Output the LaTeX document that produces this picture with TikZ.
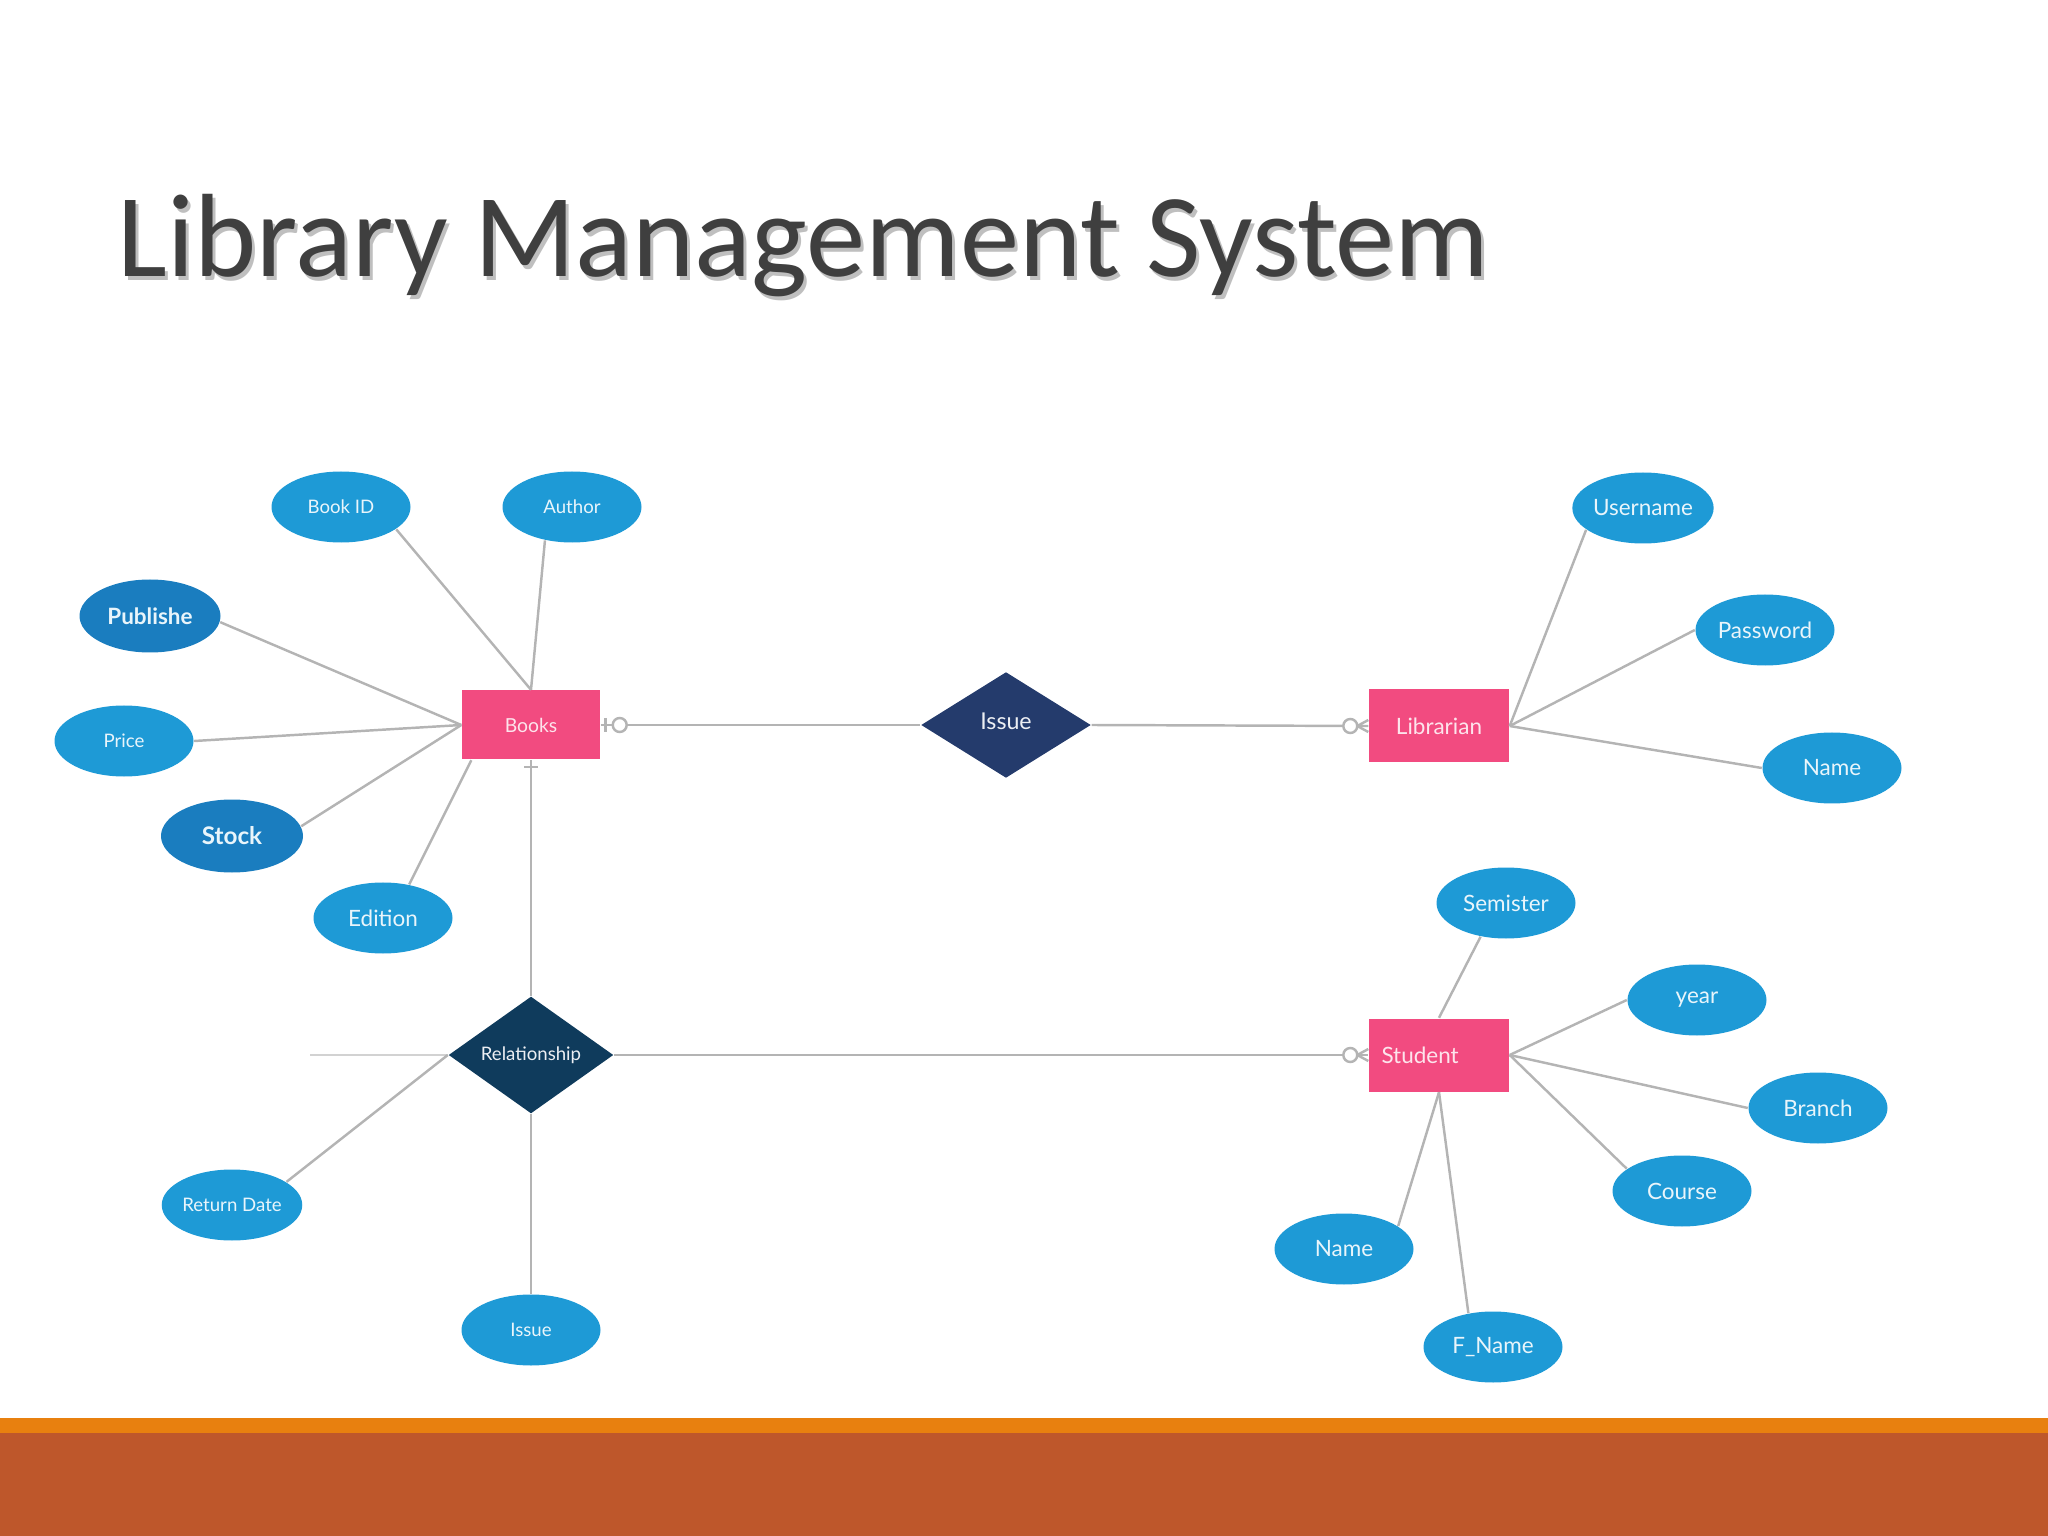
\documentclass[tikz,border=0pt]{standalone}
\usepackage{fontspec}
\setmainfont{Carlito}
\newfontfamily\erfont{Lato}
\usetikzlibrary{shapes.geometric,calc,positioning}

\definecolor{attrBlue}{HTML}{1E9AD6}
\definecolor{attrDark}{HTML}{1A7DBF}
\definecolor{entPink}{HTML}{F24B80}
\definecolor{relNavy}{HTML}{243B6C}
\definecolor{relTeal}{HTML}{0F3B5C}
\definecolor{lineGray}{HTML}{B4B4B4}
\definecolor{titleGray}{HTML}{3F3F3F}
\definecolor{barOrange}{HTML}{E8800F}
\definecolor{barRust}{HTML}{BE572B}

\begin{document}
\begin{tikzpicture}[
    attr/.style={ellipse, fill=attrBlue, minimum width=1.39cm, minimum height=0.71cm, inner sep=0pt,
        text=white!90!attrBlue, font=\erfont\fontsize{6.4}{7}\selectfont},
    attrsmall/.style={attr, font=\erfont\fontsize{5.3}{6}\selectfont},
    attrdark/.style={attr, fill=attrDark, font=\erfont\bfseries\fontsize{6.4}{7}\selectfont},
    entity/.style={rectangle, fill=entPink, minimum width=1.40cm, minimum height=0.71cm, inner sep=0pt,
        text=white!85!entPink, font=\erfont\fontsize{6.4}{7}\selectfont},
    rel/.style={diamond, fill=relNavy, minimum width=1.70cm, minimum height=1.06cm, inner sep=0pt,
        text=white!92!relNavy, font=\erfont\fontsize{6.6}{7}\selectfont},
    conn/.style={draw=lineGray, line width=0.7pt}]
    \useasboundingbox (0,0) rectangle (20.48,-15.36);

    % bottom bars
    \fill[barOrange] (0,-14.18) rectangle (20.48,-14.33);
    \fill[barRust] (0,-14.33) rectangle (20.48,-15.36);

    % title
    \node (TitleShadow) [anchor=base west, inner sep=0pt, text=black!25, font=\fontsize{33.7}{40}\selectfont] at (1.20,-2.81) {Library Management System};;
    \node (Title) [anchor=base west, inner sep=0pt, text=titleGray, font=\fontsize{33.7}{40}\selectfont] at (1.17,-2.77) {Library Management System};;

    % entities and relations
    \node (Books) [entity, minimum width=1.38cm, minimum height=0.69cm, font=\erfont\fontsize{5.5}{6}\selectfont] at (5.31,-7.25) {Books};;
    \node (Issue) [rel] at (10.06,-7.25) {\raisebox{0.6ex}{Issue}};;
    \node (Librarian) [entity, minimum height=0.73cm] at (14.39,-7.26) {Librarian};;
    \node (Rel) [rel, fill=relTeal, minimum width=1.65cm, minimum height=0.97cm, font=\erfont\fontsize{5.3}{6}\selectfont] at (5.31,-10.55) {Relationship};;
    \node (Student) [entity, minimum height=0.73cm, text width=1.15cm, align=left] at (14.39,-10.55) {Student};;
    \coordinate (RelStub) at (3.10,-10.55);

    % attributes Books
    \node (BookID) [attrsmall] at (3.41,-5.07) {Book ID};;
    \node (Author) [attrsmall] at (5.72,-5.07) {Author};;
    \node (Publishe) [attrdark, minimum width=1.41cm, minimum height=0.73cm] at (1.50,-6.16) {Publishe};;
    \node (Price) [attrsmall] at (1.24,-7.41) {Price};;
    \node (Stock) [attrdark, minimum width=1.42cm, minimum height=0.73cm, font=\erfont\bfseries\fontsize{6.9}{8}\selectfont] at (2.32,-8.36) {Stock};;
    \node (Edition) [attr] at (3.83,-9.18) {Edition};;

    % attributes Relationship
    \node (ReturnDate) [attrsmall] at (2.32,-12.05) {Return Date};;
    \node (IssueAttr) [attrsmall] at (5.31,-13.30) {Issue};;

    % attributes Librarian
    \node (Username) [attr] at (16.43,-5.08) {Username};;
    \node (Password) [attr] at (17.65,-6.30) {Password};;
    \node (LibName) [attr] at (18.32,-7.68) {Name};;

    % attributes Student
    \node (Semister) [attr] at (15.06,-9.03) {Semister};;
    \node (Year) [attr] at (16.97,-10.00) {year};;
    \node (Branch) [attr] at (18.18,-11.08) {Branch};;
    \node (Course) [attr] at (16.82,-11.91) {Course};;
    \node (StuName) [attr] at (13.44,-12.49) {Name};;
    \node (FName) [attr] at (14.93,-13.47) {F\_Name};;

    % connectors
    \draw[conn] (BookID.-22) -- (Books.north);
    \draw[conn] (Author.231) -- (Books.north);
    \draw[conn] (Publishe.-5) -- (Books.west);
    \draw[conn] (Price.east) -- (Books.west);
    \draw[conn] (Stock.8) -- (Books.west);
    \draw[conn] (Edition.52) -- ($(Books.south west)+(0.1,0)$);
    \draw[conn] (Books.east) -- (Issue.west);
    \draw[conn] (Issue.east) -- (Librarian.west);
    \draw[conn] (Rel.north) -- (Books.south);
    \draw[conn] (Rel.east) -- (Student.west);
    \draw[conn, draw=lineGray!60, line width=0.4pt] (RelStub) -- (Rel.west);
    \draw[conn] (Rel.west) -- (ReturnDate.23);
    \draw[conn] (Rel.south) -- (IssueAttr);
    \draw[conn] (Librarian.east) -- (Username.201);
    \draw[conn] (Librarian.east) -- (Password.west);
    \draw[conn] (Librarian.east) -- (LibName.west);
    \draw[conn] (Student.north) -- (Semister.233);
    \draw[conn] (Student.east) -- (Year.west);
    \draw[conn] (Student.east) -- (Branch.west);
    \draw[conn] (Student.east) -- (Course.158);
    \draw[conn] (Student.south) -- (StuName.23);
    \draw[conn] (Student.south) -- (FName.126);

    % cardinality marks
    \draw[conn] ($(Books.east)+(0.05,0.07)$) -- ($(Books.east)+(0.05,-0.07)$);
    \draw[conn, fill=white] ($(Books.east)+(0.19,0)$) circle (0.07);
    \draw[conn] ($(Books.south)+(-0.07,-0.07)$) -- ($(Books.south)+(0.07,-0.07)$);
    \draw[conn, fill=white] ($(Librarian.west)+(-0.18,0)$) circle (0.07);
    \draw[conn] ($(Librarian.west)+(-0.11,0)$) -- ($(Librarian.west)+(0,0.06)$);
    \draw[conn] ($(Librarian.west)+(-0.11,0)$) -- ($(Librarian.west)+(0,-0.06)$);
    \draw[conn, fill=white] ($(Student.west)+(-0.18,0)$) circle (0.07);
    \draw[conn] ($(Student.west)+(-0.11,0)$) -- ($(Student.west)+(0,0.06)$);
    \draw[conn] ($(Student.west)+(-0.11,0)$) -- ($(Student.west)+(0,-0.06)$);
\end{tikzpicture}
\end{document}
